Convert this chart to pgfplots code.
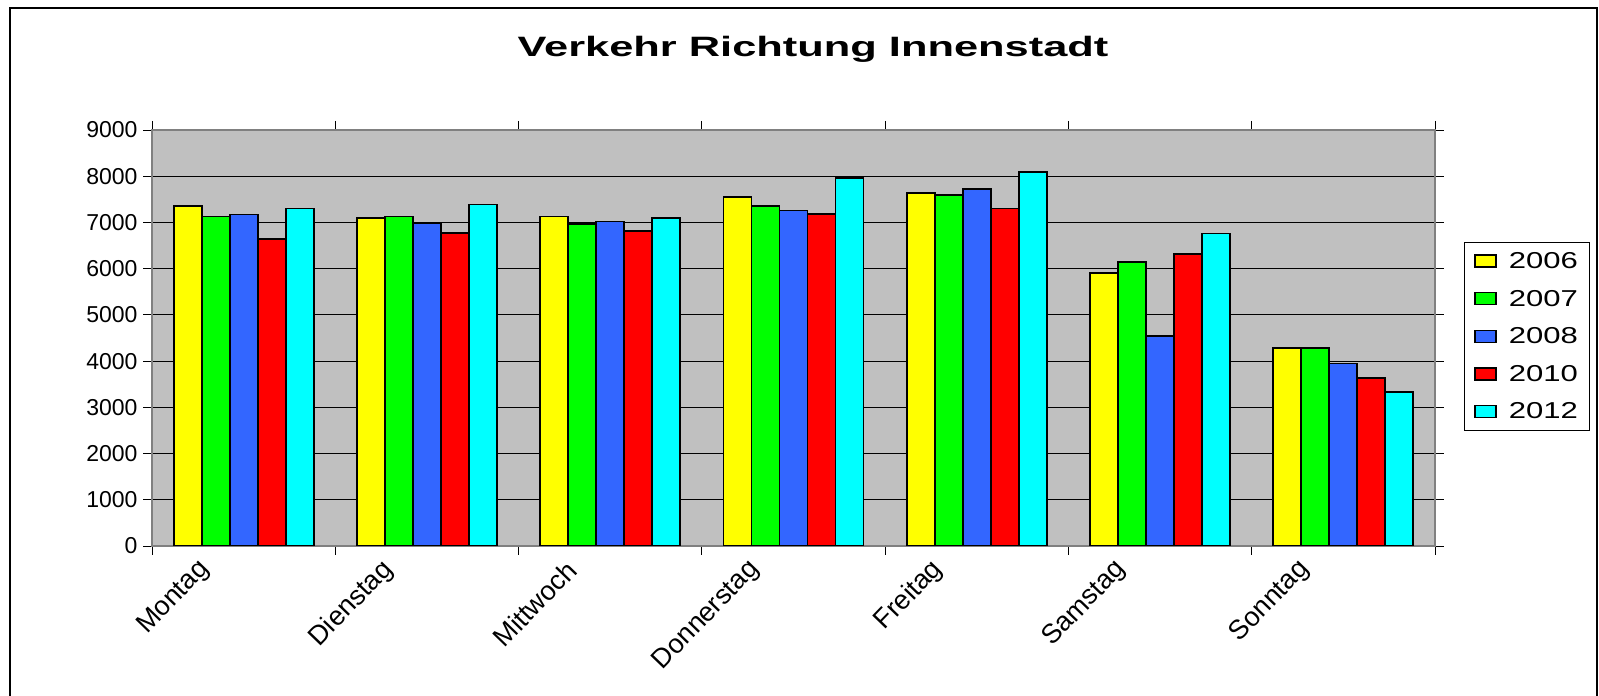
\documentclass[border=0pt]{standalone}
\usepackage{fontspec}
\setmainfont{Liberation Sans}
\usepackage{pgfplots}
\pgfplotsset{compat=1.18}
\definecolor{cyel}{HTML}{FFFF00}
\definecolor{cgrn}{HTML}{00FF00}
\definecolor{cblu}{HTML}{3366FF}
\definecolor{cred}{HTML}{FF0000}
\definecolor{ccya}{HTML}{00FFFF}
\definecolor{plotbg}{HTML}{C0C0C0}
\newcommand{\legtxt}[1]{\hspace{10pt}\scalebox{1.35}[1]{#1}}
\begin{document}
\begin{tikzpicture}[x=1pt,y=1pt]
\useasboundingbox (0,0) rectangle (1599,696);
\draw[black, line width=1.2pt] (10,0) -- (10,688) -- (1597,688) -- (1597,0);
\node[font=\bfseries\fontsize{28}{30}\selectfont] at (813,647) {\scalebox{1.55}[1]{Verkehr Richtung Innenstadt}};
\begin{axis}[
  at={(152pt,150pt)}, anchor=south west,
  scale only axis, width=1283pt, height=416pt,
  xmin=-0.5, xmax=6.5, ymin=0, ymax=9000,
  ytick={0,1000,...,9000},
  xtick={0,...,6},
  xticklabels={Montag,Dienstag,Mittwoch,Donnerstag,Freitag,Samstag,Sonntag},
  minor xtick={-0.5,0.5,...,6.5},
  major x tick style={draw=none},
  tick align=outside,
  major tick length=9pt, minor tick length=9pt,
  tick style={black, line width=0.8pt},
  ymajorgrids, grid style={black, line width=0.8pt},
  axis background/.style={fill=plotbg},
  axis line style={draw=gray, line width=1.5pt},
  /pgf/number format/.cd, 1000 sep={}, assume math mode=true, /pgfplots/.cd,
  yticklabel style={font=\fontsize{23}{25}\selectfont, xshift=-2pt},
  xticklabel style={font=\fontsize{27}{29}\selectfont, xshift=-36pt, yshift=-8pt, rotate=46, anchor=east},
  ybar=0pt, bar width=28pt,
  legend style={at={(1.0226,0.7308)}, anchor=north west, draw=black, line width=0.8pt,
    font=\fontsize{23}{25}\selectfont, row sep=16pt, inner xsep=10pt, inner ysep=8pt},
  legend cell align=left,
]
\pgfplotsset{bl/.style={draw=black, line width=1.8pt, legend image code/.code={\draw[##1, line width=1.5pt] (0pt,-6pt) rectangle (21pt,6pt);}}}
\addplot[bl, fill=cyel] coordinates {(0,7350) (1,7100) (2,7130) (3,7550) (4,7640) (5,5900) (6,4290)};
\addplot[bl, fill=cgrn] coordinates {(0,7130) (1,7130) (2,6970) (3,7350) (4,7590) (5,6150) (6,4290)};
\addplot[bl, fill=cblu] coordinates {(0,7170) (1,6980) (2,7020) (3,7260) (4,7720) (5,4540) (6,3950)};
\addplot[bl, fill=cred] coordinates {(0,6650) (1,6770) (2,6810) (3,7180) (4,7300) (5,6310) (6,3630)};
\addplot[bl, fill=ccya] coordinates {(0,7300) (1,7390) (2,7090) (3,7960) (4,8090) (5,6760) (6,3340)};
\legend{\legtxt{2006},\legtxt{2007},\legtxt{2008},\legtxt{2010},\legtxt{2012}}
\end{axis}
\end{tikzpicture}
\end{document}
